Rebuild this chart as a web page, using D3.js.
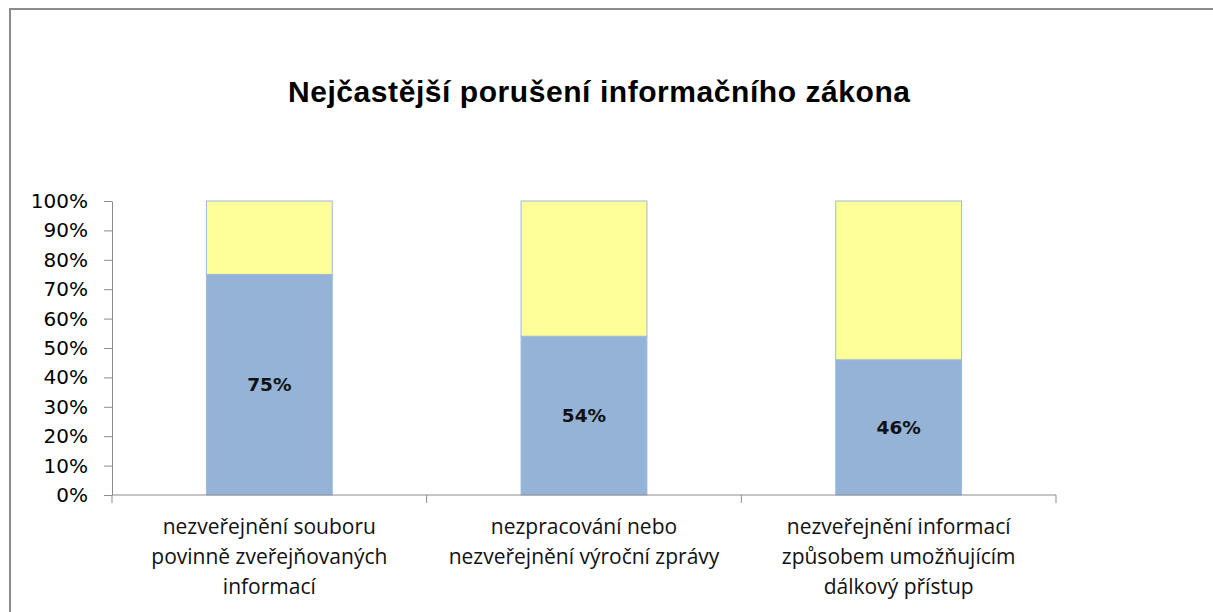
<!DOCTYPE html>
<html>
<head>
<meta charset="utf-8">
<script src="https://cdn.jsdelivr.net/npm/d3@7/dist/d3.min.js"></script>
<style>
  html, body { margin: 0; padding: 0; background: #fff; }
  svg { display: block; }
</style>
</head>
<body>
<svg id="chart" width="1213" height="612"></svg>
<script>
// Chart data
const title = "Nejčastější porušení informačního zákona";
const categories = [
  ["nezveřejnění souboru", "povinně zveřejňovaných", "informací"],
  ["nezpracování nebo", "nezveřejnění výroční zprávy"],
  ["nezveřejnění informací", "způsobem umožňujícím", "dálkový přístup"]
];
const violated = [0.75, 0.54, 0.46];      // blue share
const remainder = [0.25, 0.46, 0.54];     // yellow share
const yTicks = [0, 0.1, 0.2, 0.3, 0.4, 0.5, 0.6, 0.7, 0.8, 0.9, 1.0];

const svg = d3.select("#chart");
const W = 1213, H = 612;
const margin = { left: 112, right: 157, top: 201, bottom: 117 };
const plotW = W - margin.left - margin.right;
const plotH = H - margin.top - margin.bottom;

// outer frame (top and left edges visible)
svg.append("path")
  .attr("d", `M10,${H} L10,9 L${W},9`)
  .attr("fill", "none")
  .attr("stroke", "#8c8c8c")
  .attr("stroke-width", 2);

svg.append("text")
  .attr("x", 599).attr("y", 102)
  .attr("text-anchor", "middle")
  .attr("font-family", "Liberation Sans, Arial, sans-serif")
  .attr("font-weight", "bold")
  .attr("font-size", 30)
  .attr("textLength", 622)
  .attr("lengthAdjust", "spacing")
  .attr("fill", "#000")
  .text(title);

const g = svg.append("g").attr("transform", `translate(${margin.left},${margin.top})`);

const x = d3.scaleBand().domain(d3.range(categories.length)).range([0, plotW]).paddingInner(0).paddingOuter(0);
const y = d3.scaleLinear().domain([0, 1]).range([plotH, 0]);
const barW = x.bandwidth() * 0.4;

const stackData = violated.map((v, i) => ({ i, a: v, b: remainder[i] }));
const stack = d3.stack().keys(["a", "b"])(stackData);
const fills = { a: "#95B3D7", b: "#FFFF99" };

stack.forEach(layer => {
  g.selectAll(null).data(layer).enter().append("rect")
    .attr("x", d => x(d.data.i) + (x.bandwidth() - barW) / 2)
    .attr("y", d => y(d[1]))
    .attr("width", barW)
    .attr("height", d => y(d[0]) - y(d[1]))
    .attr("fill", fills[layer.key])
    .attr("stroke", "#9DB9DE")
    .attr("stroke-width", 1);
});

// value labels in the blue segments
g.selectAll(null).data(violated).enter().append("text")
  .attr("x", (d, i) => x(i) + x.bandwidth() / 2)
  .attr("y", d => y(d / 2))
  .attr("dy", "0.36em")
  .attr("text-anchor", "middle")
  .attr("font-family", "DejaVu Sans, Verdana, sans-serif")
  .attr("font-weight", "bold")
  .attr("font-size", 18.5)
  .attr("fill", "#111")
  .text(d => d3.format(".0%")(d));

// y axis
const yAxis = g.append("g")
  .call(d3.axisLeft(y).tickValues(yTicks).tickFormat(d3.format(".0%")).tickSize(8).tickSizeOuter(0));
yAxis.select(".domain").attr("stroke", "#8c8c8c");
yAxis.selectAll(".tick line").attr("stroke", "#8c8c8c");
yAxis.selectAll(".tick text")
  .attr("x", -24)
  .attr("font-family", "DejaVu Sans, Verdana, sans-serif")
  .attr("font-size", 20)
  .attr("fill", "#000");

// x axis with boundary ticks between categories
const xAxisG = g.append("g").attr("transform", `translate(0,${plotH})`);
xAxisG.append("line").attr("x1", 0).attr("x2", plotW).attr("stroke", "#8c8c8c");
xAxisG.selectAll(null).data(d3.range(categories.length + 1)).enter().append("line")
  .attr("x1", i => i * x.bandwidth()).attr("x2", i => i * x.bandwidth())
  .attr("y1", 0).attr("y2", 8)
  .attr("stroke", "#8c8c8c");

const labels = xAxisG.selectAll(null).data(categories).enter().append("text")
  .attr("text-anchor", "middle")
  .attr("font-family", "Open Sans, sans-serif")
  .attr("font-size", 21)
  .attr("fill", "#111");
labels.selectAll("tspan").data((d, i) => d.map(line => ({ line, i }))).enter().append("tspan")
  .attr("x", d => x(d.i) + x.bandwidth() / 2)
  .attr("y", (d, j) => 39 + j * 30)
  .text(d => d.line);
</script>
</body>
</html>
